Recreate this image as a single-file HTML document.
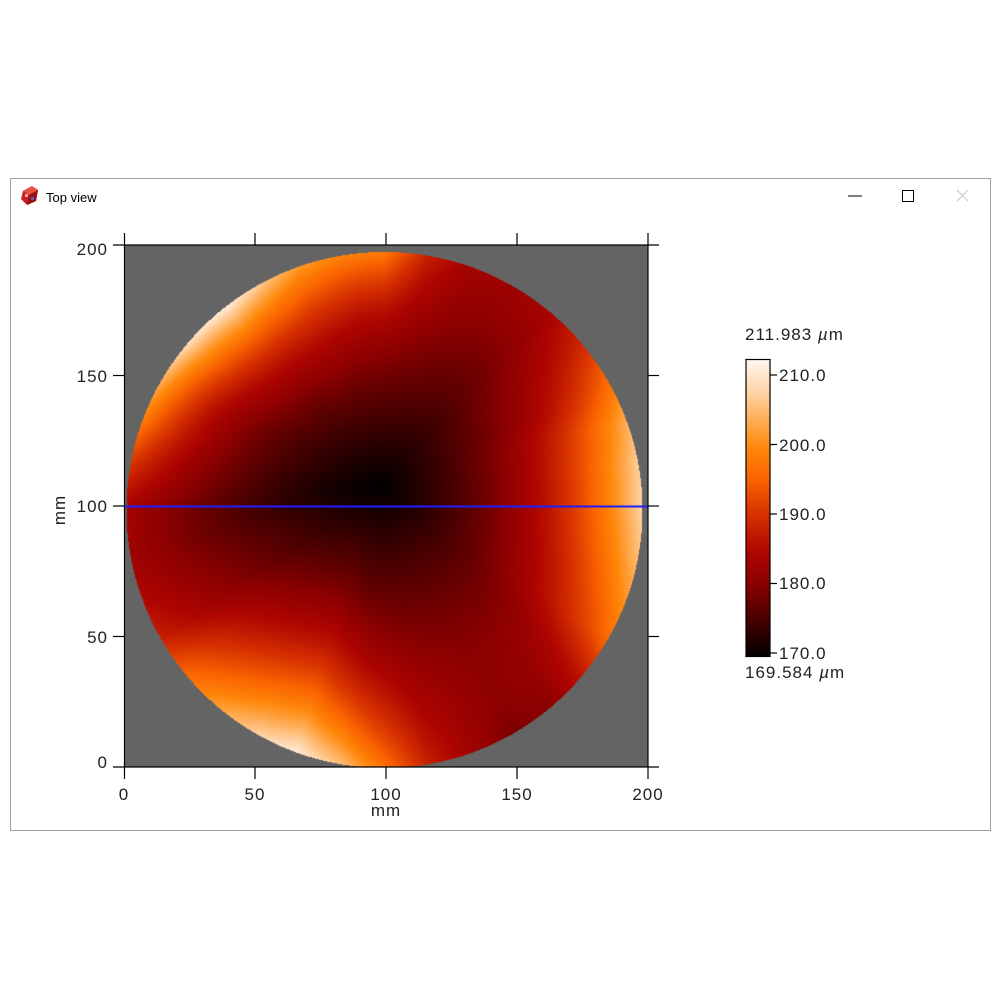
<!DOCTYPE html>
<html><head><meta charset="utf-8">
<style>
html,body{margin:0;padding:0;background:#fff;width:1000px;height:1000px;overflow:hidden}
#wrap{position:relative;width:1000px;height:1000px}
svg{position:absolute;left:0;top:0}
canvas{position:absolute}
text{font-family:"Liberation Sans",sans-serif}
</style></head><body><div id="wrap">
<svg width="1000" height="1000">
 <defs>
  <radialGradient id="fb" cx="0.49" cy="0.45" r="0.55">
   <stop offset="0" stop-color="#000"/><stop offset="0.4" stop-color="#600000"/>
   <stop offset="0.7" stop-color="#a00000"/><stop offset="0.9" stop-color="#e04000"/>
   <stop offset="1" stop-color="#ff9020"/>
  </radialGradient>
  <clipPath id="pc"><rect x="124" y="245" width="524" height="522"/></clipPath>
 </defs>
 <rect x="10.5" y="178.5" width="980" height="652" fill="#fff" stroke="#a0a0a0"/>
 <rect x="124" y="245" width="524" height="522" fill="#646464"/>
 <circle cx="384.5" cy="510" r="258" fill="url(#fb)" clip-path="url(#pc)"/>
</svg>
<canvas id="hm" width="524" height="522" style="left:124px;top:245px"></canvas>
<svg width="1000" height="1000">
 <defs>
  <linearGradient id="cb" x1="0" y1="1" x2="0" y2="0">
   <stop offset="0" stop-color="rgb(0,0,0)"/>
   <stop offset="0.12" stop-color="rgb(70,0,0)"/>
   <stop offset="0.25" stop-color="rgb(140,0,0)"/>
   <stop offset="0.35" stop-color="rgb(175,5,0)"/>
   <stop offset="0.48" stop-color="rgb(215,50,0)"/>
   <stop offset="0.6" stop-color="rgb(250,100,0)"/>
   <stop offset="0.7" stop-color="rgb(255,135,10)"/>
   <stop offset="0.8" stop-color="rgb(255,175,90)"/>
   <stop offset="0.9" stop-color="rgb(255,215,175)"/>
   <stop offset="1" stop-color="rgb(255,248,240)"/>
  </linearGradient>
 </defs>
 <!-- title bar -->
 <g transform="translate(21,186)">
  <polygon points="2,5 11,0 17,4 15,15 6,19 0,13" fill="#c81e1e"/>
  <polygon points="2,5 11,0 17,4 8,9" fill="#e85040"/>
  <polygon points="8,9 17,4 15,15 6,19" fill="#9a1010"/>
  <rect x="4" y="8" width="3" height="3" fill="#f0a0a0"/>
  <rect x="10" y="11" width="3" height="3" fill="#5060c0"/>
 </g>
 <text x="46" y="202" font-size="13" fill="#000">Top view</text>
 <line x1="848" y1="196" x2="862" y2="196" stroke="#000" stroke-width="1"/>
 <rect x="902.5" y="190.5" width="11" height="11" fill="none" stroke="#000" stroke-width="1"/>
 <g stroke="#c4c4c4" stroke-width="1">
  <line x1="957" y1="190" x2="968" y2="201"/><line x1="968" y1="190" x2="957" y2="201"/>
 </g>

 <!-- blue profile line -->
 <line x1="124" y1="506.5" x2="648" y2="506.5" stroke="#1e1eff" stroke-width="2"/>

 <!-- axes -->
 <g stroke="#000" stroke-width="1.2" fill="none">
  <line x1="124.5" y1="233" x2="124.5" y2="779"/>
  <line x1="648" y1="233" x2="648" y2="779"/>
  <line x1="113" y1="245" x2="659" y2="245"/>
  <line x1="113" y1="767" x2="659" y2="767"/>
  <line x1="255" y1="767" x2="255" y2="779"/>
  <line x1="386" y1="767" x2="386" y2="779"/>
  <line x1="517" y1="767" x2="517" y2="779"/>
  <line x1="255" y1="233" x2="255" y2="245"/>
  <line x1="386" y1="233" x2="386" y2="245"/>
  <line x1="517" y1="233" x2="517" y2="245"/>
  <line x1="113" y1="375.5" x2="124" y2="375.5"/>
  <line x1="113" y1="506" x2="124" y2="506"/>
  <line x1="113" y1="636.5" x2="124" y2="636.5"/>
  <line x1="648" y1="375.5" x2="659" y2="375.5"/>
  <line x1="648" y1="506" x2="659" y2="506"/>
  <line x1="648" y1="636.5" x2="659" y2="636.5"/>
 </g>
 <g font-size="17" fill="#222" letter-spacing="1">
  <text x="108" y="255" text-anchor="end">200</text>
  <text x="108" y="382" text-anchor="end">150</text>
  <text x="108" y="512" text-anchor="end">100</text>
  <text x="108" y="643" text-anchor="end">50</text>
  <text x="108" y="768" text-anchor="end">0</text>
  <text x="124" y="800" text-anchor="middle">0</text>
  <text x="255" y="800" text-anchor="middle">50</text>
  <text x="386" y="800" text-anchor="middle">100</text>
  <text x="517" y="800" text-anchor="middle">150</text>
  <text x="648" y="800" text-anchor="middle">200</text>
  <text x="386" y="816" text-anchor="middle">mm</text>
  <text transform="translate(65,510) rotate(-90)" text-anchor="middle">mm</text>
 </g>

 <!-- colorbar -->
 <rect x="746" y="359.5" width="24" height="297" fill="url(#cb)" stroke="#000" stroke-width="1.2"/>
 <g stroke="#000" stroke-width="1.2">
  <line x1="770" y1="375" x2="777" y2="375"/>
  <line x1="770" y1="444.5" x2="777" y2="444.5"/>
  <line x1="770" y1="514" x2="777" y2="514"/>
  <line x1="770" y1="583.5" x2="777" y2="583.5"/>
  <line x1="770" y1="653" x2="777" y2="653"/>
 </g>
 <g font-size="17" fill="#222" letter-spacing="1">
  <text x="779" y="381">210.0</text>
  <text x="779" y="451">200.0</text>
  <text x="779" y="520">190.0</text>
  <text x="779" y="589">180.0</text>
  <text x="779" y="659">170.0</text>
  <text x="745" y="340">211.983 <tspan font-style="italic">µ</tspan>m</text>
  <text x="745" y="678">169.584 <tspan font-style="italic">µ</tspan>m</text>
 </g>
</svg>
</div>
<script>
(function(){
var c=document.getElementById('hm');if(!c||!c.getContext)return;
var ctx=c.getContext('2d');
var W=524,H=522,img=ctx.createImageData(W,H),d=img.data;
var cx=384.5,cy=510,R=258;
var mu=(380-cx)/R,mv=(cy-486)/R;
var E=[[0,.90],[10,.88],[20,.80],[30,.62],[40,.45],[50,.33],[60,.30],[70,.31],[80,.42],[90,.66],[100,.69],[110,.75],[120,.88],[128,.97],[140,.92],[150,.80],[160,.66],[170,.48],[180,.32],[190,.31],[200,.35],[210,.43],[220,.62],[230,.76],[240,.88],[250,.96],[260,.84],[270,.64],[280,.42],[290,.30],[300,.22],[310,.25],[320,.40],[330,.62],[340,.74],[350,.84]];
var A=[[0,.4],[20,.4],[35,.4],[50,.35],[90,.4],[110,.38],[130,.35],[155,.3],[180,.15],[205,.3],[245,.45],[270,.45],[305,.45],[330,.4]];
var Q=[[0,2.8],[20,2.8],[35,3.5],[50,2],[90,4],[110,3],[130,3.5],[155,4],[180,2],[205,2],[245,2.6],[270,3.5],[305,3.5],[330,2.8]];
function interp(tab,ang,smooth){
 ang=((ang%360)+360)%360;var n=tab.length;
 for(var i=0;i<n;i++){var j=(i+1)%n,a0=tab[i][0],a1=tab[j][0]+(j==0?360:0);
  if(ang>=a0&&ang<a1){var f=(ang-a0)/(a1-a0);if(smooth)f=(1-Math.cos(f*Math.PI))/2;return tab[i][1]+(tab[j][1]-tab[i][1])*f;}}
 return tab[0][1];}
var S=[[0,0,0,0],[.12,70,0,0],[.25,140,0,0],[.35,175,5,0],[.48,215,50,0],[.6,250,100,0],[.7,255,135,10],[.8,255,175,90],[.9,255,215,175],[1,255,248,240]];
function cmap(t){if(t<0)t=0;if(t>1)t=1;
 for(var i=0;i<S.length-1;i++){if(t<=S[i+1][0]){var f=(t-S[i][0])/(S[i+1][0]-S[i][0]);
  return [S[i][1]+(S[i+1][1]-S[i][1])*f,S[i][2]+(S[i+1][2]-S[i][2])*f,S[i][3]+(S[i+1][3]-S[i][3])*f];}}
 return [255,248,240];}
for(var py=0;py<H;py++){for(var px=0;px<W;px++){
 var X=124+px+.5,Y=245+py+.5,u=(X-cx)/R,v=(cy-Y)/R,k=(py*W+px)*4,col;
 if(u*u+v*v>1){col=[100,100,100];}
 else{
  var du=u-mu,dv=v-mv,L=Math.sqrt(du*du+dv*dv),t;
  if(L<1e-6)t=0;else{
   var ex=du/L,ey=dv/L,b=mu*ex+mv*ey,cc=mu*mu+mv*mv-1,tau=-b+Math.sqrt(b*b-cc),s=L/tau;
   if(s>1)s=1;
   var eu=mu+tau*ex,ev=mv+tau*ey,th=Math.atan2(ev,eu)*180/Math.PI;
   var e=interp(E,th,false),a=interp(A,th,true),q=interp(Q,th,true);
   t=a*s+(e-a)*Math.pow(s,q);}
  col=cmap(t);}
 d[k]=col[0];d[k+1]=col[1];d[k+2]=col[2];d[k+3]=255;}}
ctx.putImageData(img,0,0);
})();
</script>
</body></html>
